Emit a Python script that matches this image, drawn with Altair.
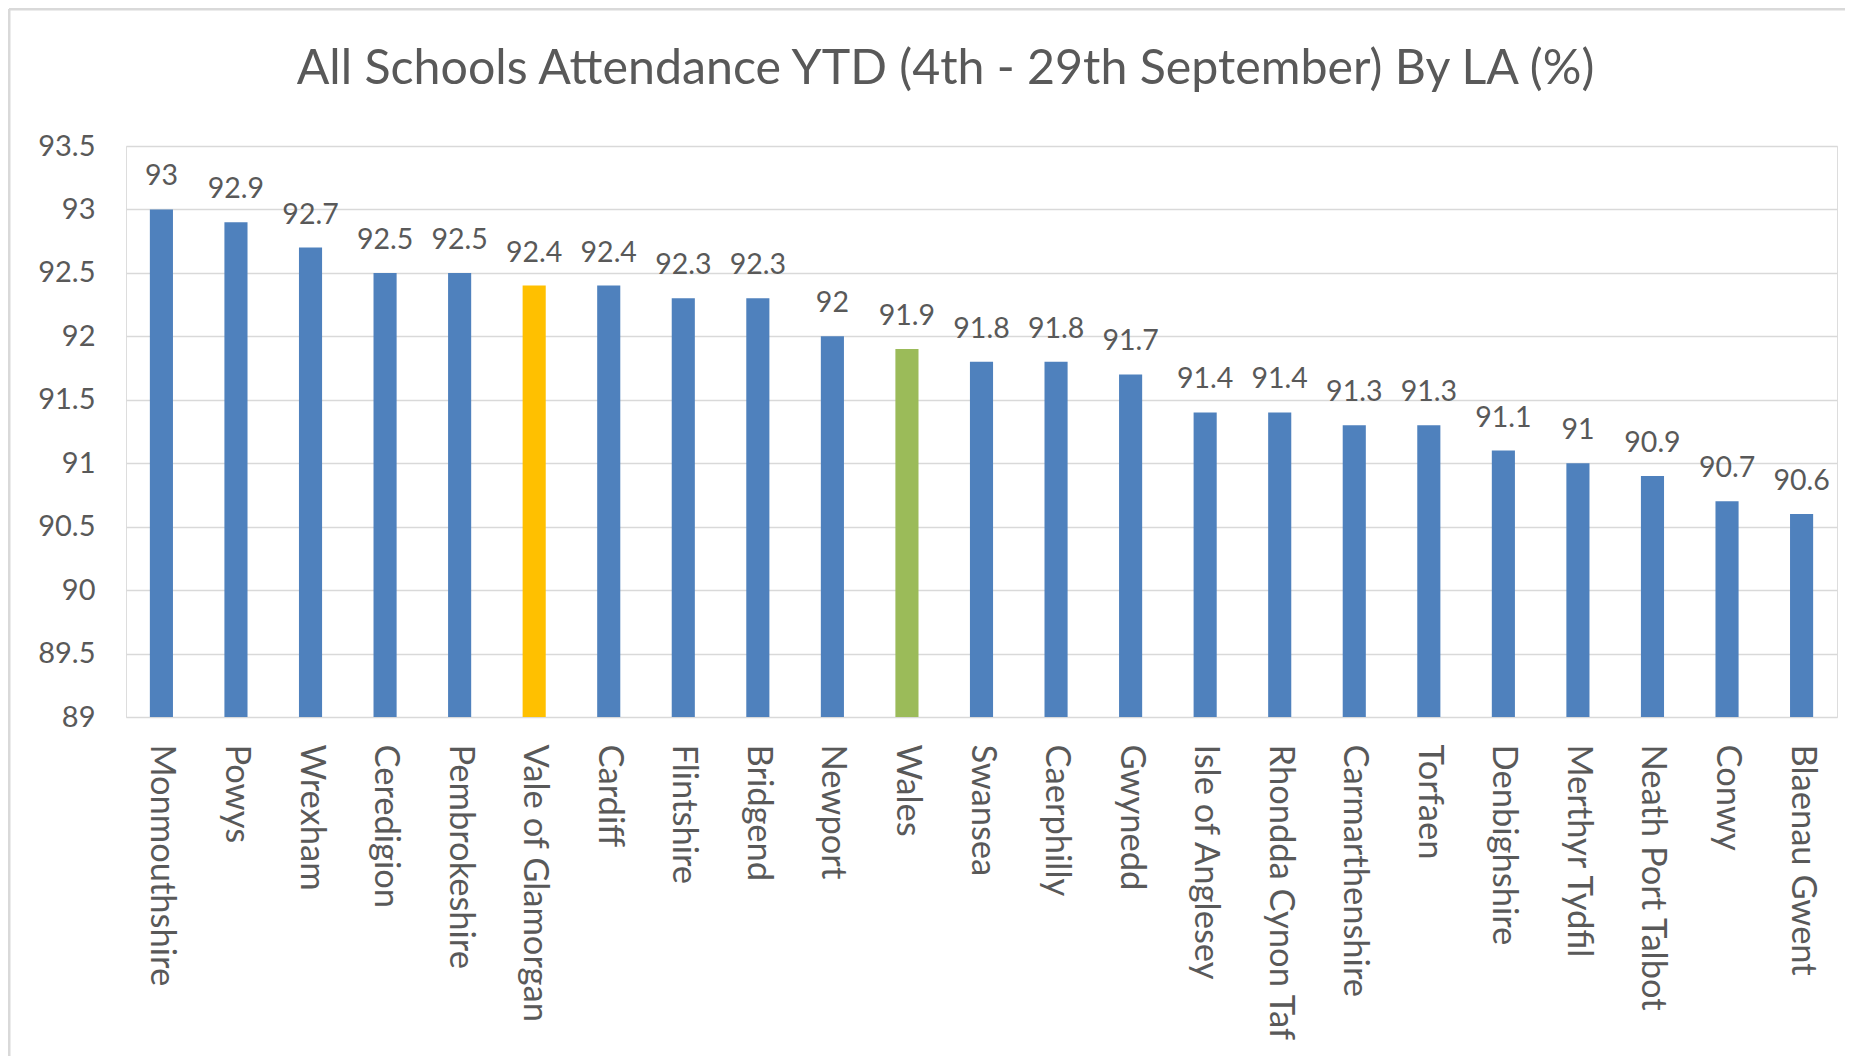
import altair as alt
import pandas as pd

areas = ["Monmouthshire", "Powys", "Wrexham", "Ceredigion", "Pembrokeshire",
         "Vale of Glamorgan", "Cardiff", "Flintshire", "Bridgend", "Newport",
         "Wales", "Swansea", "Caerphilly", "Gwynedd", "Isle of Anglesey",
         "Rhondda Cynon Taf", "Carmarthenshire", "Torfaen", "Denbighshire",
         "Merthyr Tydfil", "Neath Port Talbot", "Conwy", "Blaenau Gwent"]
attendance = [93.0, 92.9, 92.7, 92.5, 92.5, 92.4, 92.4, 92.3, 92.3, 92.0,
              91.9, 91.8, 91.8, 91.7, 91.4, 91.4, 91.3, 91.3, 91.1, 91.0,
              90.9, 90.7, 90.6]
group = ["LA"] * 5 + ["Vale"] + ["LA"] * 4 + ["Wales"] + ["LA"] * 12
y_ticks = [89, 89.5, 90, 90.5, 91, 91.5, 92, 92.5, 93, 93.5]
group_names = ["LA", "Vale", "Wales"]
group_colors = ["#4F81BD", "#FFC000", "#9BBB59"]

df = pd.DataFrame({"area": areas, "value": attendance, "group": group})
df["label"] = df["value"].map(lambda v: f"{v:g}")

TEXT = "#595959"
FONT = "Lato"

x_enc = alt.X("area:N", sort=areas, title=None,
              scale=alt.Scale(paddingInner=0.69, paddingOuter=0.32),
              axis=alt.Axis(labelAngle=90, labelFontSize=34.5, labelColor=TEXT,
                            labelFont=FONT, ticks=False, domain=False,
                            labelPadding=27, grid=False, labelLimit=0))
y_enc = alt.Y("value:Q", title=None,
              scale=alt.Scale(domain=[89, 93.5], zero=False, nice=False, clamp=True),
              axis=alt.Axis(values=y_ticks, format="~g", labelFontSize=29,
                            labelColor=TEXT, labelFont=FONT, ticks=False,
                            domain=False, labelPadding=31, grid=True,
                            gridColor="#D9D9D9", gridWidth=1.5))

bars = alt.Chart(df).mark_bar().encode(
    x=x_enc, y=y_enc, y2=alt.datum(89),
    color=alt.Color("group:N", legend=None,
                    scale=alt.Scale(domain=group_names, range=group_colors)),
)

labels = alt.Chart(df).mark_text(baseline="alphabetic", dy=-24, fontSize=28.5,
                                 font=FONT, color=TEXT).encode(
    x=alt.X("area:N", sort=areas), y="value:Q", text="label:N")

frame = alt.Data(values=[{"k": 1}])
left_line = alt.Chart(frame).mark_rule(color="#D9D9D9", strokeWidth=3).encode(
    x=alt.value(-117), y=alt.value(-137), y2=alt.value(1000))
top_line = alt.Chart(frame).mark_rule(color="#D9D9D9", strokeWidth=3).encode(
    x=alt.value(-117), x2=alt.value(2000), y=alt.value(-137))

chart = alt.layer(left_line, top_line, bars, labels).properties(
    width=1711, height=571,
    autosize=alt.AutoSizeParams(type="none"),
    padding={"left": 118, "top": 138, "right": 8, "bottom": 339},
    title=alt.TitleParams(
        "All Schools Attendance YTD (4th - 29th September)  By LA (%)",
        fontSize=48.3, font=FONT, color=TEXT, fontWeight="normal",
        anchor="middle", baseline="alphabetic", dx=-36, offset=-124.5),
).configure_view(stroke=None).configure(background="white")

chart.save("out.html", embed_options={"renderer": "svg", "actions": False})
